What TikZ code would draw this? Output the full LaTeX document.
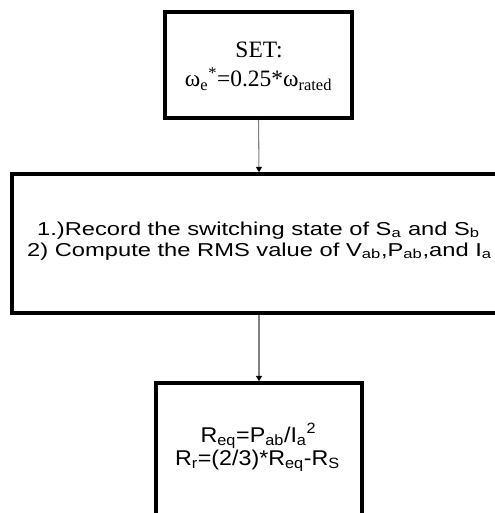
\documentclass[tikz,border=0pt]{standalone}
\usepackage{fontspec}
\setmainfont{Liberation Serif}
\newfontfamily\midfont[FakeStretch=1.27]{Liberation Sans}
\newfontfamily\botfont[FakeStretch=1.09]{Liberation Sans}
\usetikzlibrary{arrows.meta}
\begin{document}
\begin{tikzpicture}[x=0.75pt,y=-0.75pt,
  boxstyle/.style={draw=black,line width=2.7pt,inner sep=0pt,fill=none},
  txt/.style={inner sep=0pt,anchor=base},
  conn/.style={draw=black!50,line width=0.8pt,-{Triangle[width=4.5pt,length=4pt,color=black]}}]
\useasboundingbox (0,0) rectangle (494,513);
% boxes
\node[boxstyle,minimum width=187*0.75pt,minimum height=106*0.75pt] (top) at (258.5,65) {};
\node[boxstyle,minimum width=494*0.75pt,minimum height=139*0.75pt] (mid) at (259,243.5) {};
\node[boxstyle,minimum width=206*0.75pt,minimum height=160*0.75pt] (bot) at (259,463) {};
% texts
\node[txt,font=\fontsize{17.6}{20}\selectfont] (t1) at (259,58) {SET:};
\node[txt,font=\fontsize{17.6}{20}\selectfont] (t2) at (258.5,87) {ω\textsubscript{e}\textsuperscript{*}=0.25*ω\textsubscript{rated}};
\node[txt,font=\midfont\fontsize{14}{16}\selectfont] (m1) at (258.5,235) {1.)Record the switching state of S\textsubscript{a} and S\textsubscript{b}};
\node[txt,font=\midfont\fontsize{14}{16}\selectfont] (m2) at (259.5,256) {2) Compute the RMS value of V\textsubscript{ab},P\textsubscript{ab},and I\textsubscript{a}};
\node[txt,font=\botfont\fontsize{16}{18}\selectfont] (b1) at (258.5,442) {R\textsubscript{eq}=P\textsubscript{ab}/I\textsubscript{a}\textsuperscript{2}};
\node[txt,font=\botfont\fontsize{16}{18}\selectfont] (b2) at (257.5,465) {R\textsubscript{r}=(2/3)*R\textsubscript{eq}-R\textsubscript{S}};
% connectors
\draw[conn] (top.south) -- (mid.north);
\draw[conn] (mid.south) -- (bot.north);
\end{tikzpicture}
\end{document}
